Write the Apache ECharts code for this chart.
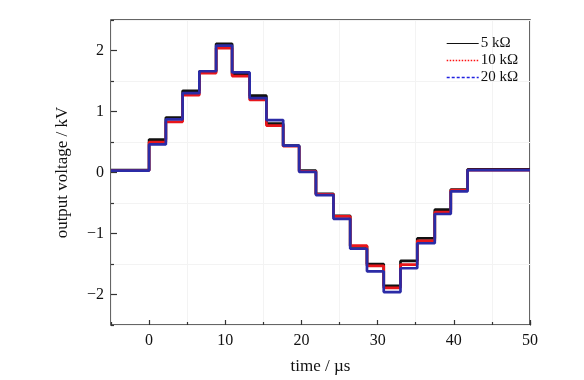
<!DOCTYPE html>
<html>
<head>
<meta charset="utf-8">
<script src="https://cdn.jsdelivr.net/npm/echarts@6/dist/echarts.min.js"></script>
<style>html,body{margin:0;padding:0;background:#fff;}#c{width:584px;height:380px;}</style>
</head>
<body>
<div id="c"></div>
<script>
// step edge times (µs); each level holds from its time until the next
var stepTimes = [-5, 0, 2.2, 4.4, 6.6, 8.8, 10.9, 13.2, 15.4, 17.6, 19.7, 21.9, 24.2, 26.4, 28.6, 30.8, 33.0, 35.2, 37.5, 39.6, 41.8, 50];
// output voltage levels (kV)
var level5k  = [0.04, 0.54, 0.90, 1.34, 1.66, 2.11, 1.61, 1.26, 0.80, 0.44, 0.03, -0.35, -0.71, -1.21, -1.50, -1.86, -1.45, -1.08, -0.61, -0.28, 0.05, 0.05];
var level10k = [0.03, 0.50, 0.83, 1.27, 1.63, 2.04, 1.58, 1.19, 0.77, 0.43, 0.02, -0.36, -0.72, -1.20, -1.53, -1.89, -1.51, -1.12, -0.65, -0.29, 0.04, 0.04];
var level20k = [0.03, 0.46, 0.87, 1.30, 1.66, 2.08, 1.64, 1.22, 0.86, 0.44, 0.01, -0.37, -0.76, -1.25, -1.62, -1.96, -1.57, -1.16, -0.68, -0.31, 0.04, 0.04];
var seriesNames = ['5 kΩ', '10 kΩ', '20 kΩ'];
var xLabelValues = [0, 10, 20, 30, 40, 50];
var yLabelValues = [-2, -1, 0, 1, 2];

function pairs(levels) {
  return stepTimes.map(function (t, i) { return [t, levels[i]]; });
}
var serif = 'Liberation Serif';
var chart = echarts.init(document.getElementById('c'));
var minusFmt = function (v) { return String(v).replace('-', '\u2212'); };
var hideSym = { color: 'rgba(0,0,0,0)', borderColor: 'rgba(0,0,0,0)', borderWidth: 0 };
chart.setOption({
  animation: false,
  backgroundColor: '#fff',
  grid: { left: 111, right: 54, top: 20, bottom: 54, show: true, borderColor: '#333', borderWidth: 1.5, backgroundColor: 'transparent' },
  legend: {
    orient: 'vertical', left: 441, top: 31, itemWidth: 32, itemHeight: 10, itemGap: 2,
    textStyle: { fontFamily: serif, fontSize: 15, color: '#111', padding: [0, 0, 0, -3] },
    data: [
      { name: seriesNames[0], itemStyle: hideSym, lineStyle: { type: 'solid', color: '#111', width: 1, opacity: 1 } },
      { name: seriesNames[1], itemStyle: hideSym, lineStyle: { type: [1.5, 1.5], color: '#ff1010', width: 1.4, opacity: 1 } },
      { name: seriesNames[2], itemStyle: hideSym, lineStyle: { type: [3, 2], color: '#2020e0', width: 1.3, opacity: 1 } }
    ]
  },
  xAxis: [{
    type: 'value', min: -5, max: 50,
    name: 'time / µs', nameLocation: 'middle', nameGap: 33,
    nameTextStyle: { fontFamily: serif, fontSize: 17, color: '#111' },
    axisLine: { show: false, onZero: false },
    axisTick: { show: true, inside: true, length: 5, customValues: xLabelValues, lineStyle: { color: '#333', width: 1.2 } },
    axisLabel: { customValues: xLabelValues, fontFamily: serif, fontSize: 16, color: '#111', margin: 8 },
    splitLine: { show: false }
  }, {
    type: 'value', min: -5, max: 50, interval: 10, position: 'bottom', offset: 0,
    axisLine: { show: false, onZero: false },
    axisTick: { show: true, inside: true, length: 3, lineStyle: { color: '#333', width: 1.2 } },
    axisLabel: { show: false },
    splitLine: { show: true, lineStyle: { color: '#f3f3f3', width: 1 } }
  }],
  yAxis: [{
    type: 'value', min: -2.5, max: 2.5,
    name: 'output voltage / kV', nameLocation: 'middle', nameGap: 40, nameRotate: 90,
    nameTextStyle: { fontFamily: serif, fontSize: 17, color: '#111' },
    axisLine: { show: false, onZero: false },
    axisTick: { show: true, inside: true, length: 6, customValues: yLabelValues, lineStyle: { color: '#333', width: 1.2 } },
    axisLabel: { customValues: yLabelValues, fontFamily: serif, fontSize: 16, color: '#111', margin: 7, formatter: minusFmt },
    splitLine: { show: false }
  }, {
    type: 'value', min: -2.5, max: 2.5, interval: 1, position: 'left', offset: 0,
    axisLine: { show: false, onZero: false },
    axisTick: { show: true, inside: true, length: 3, lineStyle: { color: '#333', width: 1.2 } },
    axisLabel: { show: false },
    splitLine: { show: true, lineStyle: { color: '#f3f3f3', width: 1 } }
  }],
  series: [
    { name: seriesNames[0], type: 'line', step: 'end', showSymbol: false, symbol: 'none', data: pairs(level5k), lineStyle: { color: '#111', width: 2.7 }, itemStyle: { color: '#111' }, z: 3 },
    { name: seriesNames[1], type: 'line', step: 'end', showSymbol: false, symbol: 'none', data: pairs(level10k), lineStyle: { color: '#e8161b', width: 2.7 }, itemStyle: { color: '#e8161b' }, z: 4 },
    { name: seriesNames[2], type: 'line', step: 'end', showSymbol: false, symbol: 'none', data: pairs(level20k), lineStyle: { color: '#2b2ba6', width: 2.7 }, itemStyle: { color: '#2b2ba6' }, z: 5 }
  ]
});
</script>
</body>
</html>
